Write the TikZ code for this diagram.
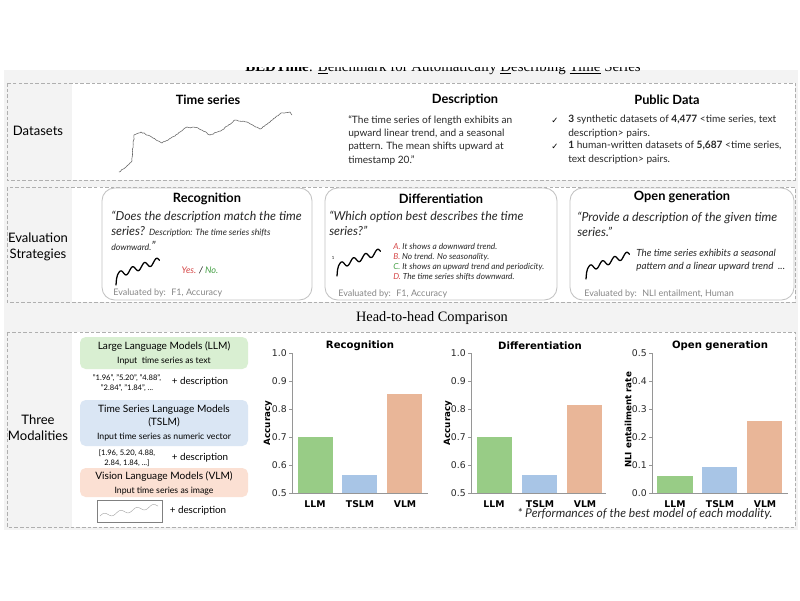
\documentclass[tikz,border=0pt]{standalone}
\usepackage{fontspec}
\setmainfont{Lato}
\newfontfamily\plotfont{DejaVu Sans}
\newfontfamily\serifont{Liberation Serif}
\usepackage{tikz}
\usetikzlibrary{
  calc,                     % coordinate math
  decorations.pathmorphing  % jagged series line
}

\definecolor{panelgray}{RGB}{242,242,242}
\definecolor{dashgray}{RGB}{175,175,175}
\definecolor{boxgray}{RGB}{195,195,195}
\definecolor{llmfill}{RGB}{217,239,210}
\definecolor{tslmfill}{RGB}{218,230,244}
\definecolor{vlmfill}{RGB}{251,224,211}
\definecolor{llmbar}{RGB}{152,204,134}
\definecolor{tslmbar}{RGB}{168,197,230}
\definecolor{vlmbar}{RGB}{233,182,152}
\definecolor{ansred}{RGB}{214,72,72}
\definecolor{ansgreen}{RGB}{70,160,70}
\definecolor{evalgray}{RGB}{135,135,135}
\definecolor{axisgray}{RGB}{150,150,150}
\definecolor{inkgray}{RGB}{40,40,40}

\begin{document}
\begin{tikzpicture}[x=0.025cm, y=-0.025cm,
    rowbox/.style={draw=dashgray, dash pattern=on 2.5pt off 1.5pt, line width=0.5pt},
    rowlabel/.style={align=center, font=\fontsize{9.3}{11.5}\selectfont},
    heading/.style={font=\bfseries\fontsize{9.1}{10}\selectfont},
    body/.style={align=left, inner sep=0pt, font=\fontsize{7.2}{9.5}\selectfont, text=inkgray},
    evalbox/.style={draw=boxgray, rounded corners=9pt, line width=0.6pt},
    quote/.style={align=left, inner sep=0pt, font=\itshape\fontsize{8.8}{10.6}\selectfont, text=inkgray},
    evalby/.style={anchor=west, inner sep=0pt, text=evalgray, font=\fontsize{6.4}{8}\selectfont},
    modbox/.style={rounded corners=4pt},
    modtext/.style={align=center, inner sep=0pt, font=\fontsize{7.2}{9.8}\selectfont},
    vals/.style={align=center, inner sep=0pt, font=\fontsize{5.4}{7}\selectfont},
    plusdesc/.style={inner sep=0pt, font=\fontsize{7}{8}\selectfont},
    axisline/.style={draw=axisgray, line width=0.6pt},
    ticklab/.style={anchor=east, inner sep=0pt, text=inkgray, font=\plotfont\fontsize{6.6}{8}\selectfont},
    barlab/.style={inner sep=0pt, font=\plotfont\bfseries\fontsize{6.6}{8}\selectfont},
    ylab/.style={rotate=90, inner sep=0pt, font=\plotfont\bfseries\fontsize{6.2}{8}\selectfont},
    charttitle/.style={inner sep=0pt, font=\plotfont\bfseries\fontsize{7.2}{8}\selectfont},
    squig/.pic={
      \draw[line width=0.9pt, line cap=round] (0,0) -- (0.5,-6) -- (1.5,-10)
        -- plot[smooth, domain=0:42, samples=60] ({1.5+\x}, {-10-0.35*\x-3*sin(\x*30)});
    }]
\useasboundingbox (0,0) rectangle (800,600);

% panels
\fill[panelgray, opacity=0.9] (4,70) rectangle (798,530);
\fill[white] (72,83) rectangle (795,180);
\fill[white] (72,187) rectangle (795,302);
\fill[white] (72,332) rectangle (795,527);
\draw[rowbox] (7,83) rectangle (795,180);
\draw[rowbox] (7,187) rectangle (795,302);
\draw[rowbox] (7,332) rectangle (795,527);

% title strip, cut at the top
\begin{scope}
  \clip (0,67.5) rectangle (800,80);
  \node[anchor=base, inner sep=0pt, font=\serifont\fontsize{10.6}{12}\selectfont] (title) at (443,71)
    {\textbf{BEDTime}: \underline{B}enchmark for Automatically \underline{D}escribing \underline{Time} Series};
\end{scope}

\node[rowlabel] (dsl) at (38,131) {Datasets};
\node[rowlabel] (evl) at (38,247) {Evaluation\\Strategies};
\node[rowlabel] (mdl) at (38,428) {Three\\Modalities};
\node[font=\serifont\fontsize{10.2}{12}\selectfont] (h2h) at (432,318) {Head-to-head Comparison};

% datasets
\node[heading] (tsh) at (208,100) {Time series};
\node[heading] (dsh) at (465,100) {Description};
\node[heading] (pdh) at (667,100) {Public Data};

\draw[gray!80!black, line width=0.4pt, decorate,
      decoration={random steps, segment length=1.2pt, amplitude=0.35pt}]
  (119,172) -- (126,167) -- (132,161) -- (134,135) -- (141,132) -- (150,136)
  -- (162,143) -- (175,136) -- (187,127) -- (198,128) -- (210,135) -- (222,130)
  -- (235,120) -- (247,122) -- (260,129) -- (270,122) -- (281,113) -- (290,112) -- (292,115);

\node[body, anchor=north west] (dst) at (348,115)
  {“The time series of length exhibits an\\upward linear trend, and a seasonal\\pattern. The mean shifts upward at\\timestamp 20.”};

\node[inner sep=0pt, font=\plotfont\fontsize{6}{8}\selectfont] (ck1) at (555,121) {✓};
\node[body, anchor=north west] (pd1) at (568,115)
  {\textbf{3} synthetic datasets of \textbf{4,477} <time series, text\\description> pairs.};
\node[inner sep=0pt, font=\plotfont\fontsize{6}{8}\selectfont] (ck2) at (555,147) {✓};
\node[body, anchor=north west] (pd2) at (568,141)
  {\textbf{1} human-written datasets of \textbf{5,687} <time series,\\text description> pairs.};

% evaluation strategies
\draw[evalbox, fill=white] (102,188) rectangle (312,300);
\draw[evalbox, fill=white] (325,188) rectangle (557,300);
\draw[evalbox, fill=white] (570,188) rectangle (794,300);

\node[heading] (rech) at (207,199) {Recognition};
\node[quote, anchor=north west] (recq) at (111,211)
  {“Does the description match the time\\series? {\fontsize{6.2}{9}\selectfont Description: The time series shifts}\\{\fontsize{6.2}{8}\selectfont downward.}”};
\pic at (116,285) {squig};
\node[inner sep=0pt, font=\itshape\fontsize{6.5}{8}\selectfont] (recans) at (200,270)
  {\textcolor{ansred}{Yes.} / \textcolor{ansgreen}{No.}};
\node[evalby] (recby) at (113,293) {Evaluated by:~ F1, Accuracy};

\node[heading] (difh) at (441,199) {Differentiation};
\node[quote, anchor=north west] (difq) at (329,211)
  {“Which option best describes the time\\series?”};
\node[inner sep=0pt, font=\fontsize{3}{4}\selectfont] (difone) at (333,258) {1};
\pic at (337,276) {squig};
\node[align=left, anchor=north west, inner sep=0pt, text=inkgray,
      font=\itshape\fontsize{5.9}{7.1}\selectfont] (difopt) at (393,243)
  {\textcolor{ansred}{A.} It shows a downward trend.\\
   \textcolor{ansred}{B.} No trend. No seasonality.\\
   \textcolor{ansgreen}{C.} It shows an upward trend and periodicity.\\
   \textcolor{ansred}{D.} The time series shifts downward.};
\node[evalby] (difby) at (338,294) {Evaluated by:~ F1, Accuracy};

\node[heading] (opnh) at (682,197) {Open generation};
\node[quote, anchor=north west] (opnq) at (577,212)
  {“Provide a description of the given time\\series.”};
\pic at (586,279) {squig};
\node[align=left, anchor=north west, inner sep=0pt, text=inkgray,
      font=\itshape\fontsize{7}{9.4}\selectfont] (opnt) at (636,249)
  {The time series exhibits a seasonal\\pattern and a linear upward trend ~...};
\node[evalby] (opnby) at (584,294) {Evaluated by:~ NLI entailment, Human};

% three modalities
\fill[llmfill, modbox] (80,337) rectangle (248,369);
\node[modtext] (llmt) at (164,353)
  {Large Language Models (LLM)\\{\fontsize{6.2}{8}\selectfont Input~ time series as text}};
\node[vals] (llmv) at (127,383) {"1.96", "5.20", "4.88",\\"2.84", "1.84", ...};
\node[plusdesc] (llmd) at (200,382) {+ description};

\fill[tslmfill, modbox] (80,400) rectangle (248,446);
\node[modtext] (tslmt) at (164,423)
  {Time Series Language Models\\(TSLM)\\{\fontsize{6.2}{8}\selectfont Input time series as numeric vector}};
\node[vals] (tslmv) at (127,458) {[1.96, 5.20, 4.88,\\2.84, 1.84, ...]};
\node[plusdesc] (tslmd) at (200,458) {+ description};

\fill[vlmfill, modbox] (80,468) rectangle (248,497);
\node[modtext] (vlmt) at (164,483)
  {Vision Language Models (VLM)\\{\fontsize{6.2}{8}\selectfont Input time series as image}};
\draw[gray, line width=0.6pt] (97,500) rectangle (162,522);
\draw[gray!70, line width=0.3pt] plot[smooth, domain=0:58, samples=40]
  ({100+\x}, {516-0.18*\x-2*sin(\x*22)});
\node[plusdesc] (vlmd) at (198,511) {+ description};

% chart: recognition
\node[charttitle] (c1t) at (360,346) {Recognition};
\node[ylab] (c1y) at (268,423) {Accuracy};
\foreach \lab [count=\k from 0] in {0.5,0.6,0.7,0.8,0.9,1.0} {
  \draw[axisline] (289,{493-28*\k}) -- (292,{493-28*\k});
  \node[ticklab] (c1k\k) at (287,{493-28*\k}) {\lab};
}
\fill[llmbar] (298,493) rectangle (333,437);
\fill[tslmbar] (342,493) rectangle (377,475);
\fill[vlmbar] (387,493) rectangle (422,394);
\draw[axisline] (292,353) -- (292,493) -- (428,493);
\node[barlab] (c1a) at (315,504) {LLM};
\node[barlab] (c1b) at (360,504) {TSLM};
\node[barlab] (c1c) at (405,504) {VLM};

% chart: differentiation
\node[charttitle] (c2t) at (540,346) {Differentiation};
\node[ylab] (c2y) at (448,423) {Accuracy};
\foreach \lab [count=\k from 0] in {0.5,0.6,0.7,0.8,0.9,1.0} {
  \draw[axisline] (468,{493-28*\k}) -- (471,{493-28*\k});
  \node[ticklab] (c2k\k) at (466,{493-28*\k}) {\lab};
}
\fill[llmbar] (477,493) rectangle (512,437);
\fill[tslmbar] (522,493) rectangle (557,475);
\fill[vlmbar] (567,493) rectangle (602,405);
\draw[axisline] (471,353) -- (471,493) -- (606,493);
\node[barlab] (c2a) at (494,504) {LLM};
\node[barlab] (c2b) at (540,504) {TSLM};
\node[barlab] (c2c) at (585,504) {VLM};

% chart: open generation
\node[charttitle] (c3t) at (720,346) {Open generation};
\node[ylab] (c3y) at (628,420) {NLI entailment rate};
\foreach \lab [count=\k from 0] in {0.0,0.1,0.2,0.3,0.4,0.5} {
  \draw[axisline] (649,{493-28*\k}) -- (652,{493-28*\k});
  \node[ticklab] (c3k\k) at (647,{493-28*\k}) {\lab};
}
\fill[llmbar] (657,493) rectangle (693,476);
\fill[tslmbar] (702,493) rectangle (737,467);
\fill[vlmbar] (747,493) rectangle (782,421);
\draw[axisline] (652,353) -- (652,493) -- (788,493);
\node[barlab] (c3a) at (675,504) {LLM};
\node[barlab] (c3b) at (720,504) {TSLM};
\node[barlab] (c3c) at (765,504) {VLM};

\node[inner sep=0pt, text=inkgray, font=\itshape\fontsize{8.6}{9}\selectfont] (foot) at (645,514)
  {* Performances of the best model of each modality.};
\end{tikzpicture}
\end{document}
